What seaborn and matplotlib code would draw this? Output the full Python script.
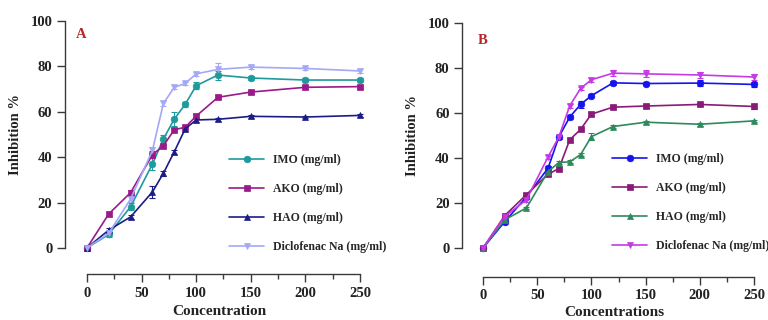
import numpy as np
import pandas as pd
import matplotlib
matplotlib.use("Agg")
import matplotlib.pyplot as plt
import seaborn as sns
from matplotlib.ticker import MultipleLocator

sns.set_theme(style="white")
plt.rcParams['font.family'] = ['Liberation Serif', 'DejaVu Serif']
plt.rcParams['font.weight'] = 'bold'

conc = [0, 20, 40, 60, 70, 80, 90, 100, 120, 150, 200, 250]
series = ["IMO (mg/ml)", "AKO (mg/ml)", "HAO (mg/ml)", "Diclofenac Na (mg/ml)"]

# Panel A
a_imo = [0, 6.0, 18.2, 37.0, 48.0, 56.8, 63.3, 71.5, 76.2, 74.9, 74.0, 74.0]
a_ako = [0, 15.0, 24.4, 41.1, 45.0, 52.1, 53.2, 58.1, 66.4, 68.7, 70.8, 71.1]
a_hao = [0, 7.9, 13.7, 24.7, 32.9, 42.4, 52.5, 56.4, 56.7, 58.0, 57.7, 58.4]
a_dic = [0, 6.5, 21.6, 43.0, 63.7, 70.8, 72.5, 76.7, 78.7, 79.7, 79.1, 78.0]
a_imo_err = [0, 1.0, 1.5, 2.5, 2.0, 3.0, 1.0, 1.5, 2.0, 0.8, 0.8, 0.8]
a_ako_err = [0, 0.8, 1.0, 1.5, 1.0, 0.8, 0.8, 1.0, 0.8, 0.8, 0.8, 0.8]
a_hao_err = [0, 0.8, 0.8, 2.5, 1.0, 0.8, 0.8, 0.8, 0.6, 0.6, 0.6, 0.6]
a_dic_err = [0, 0.8, 1.5, 1.5, 1.0, 0.8, 0.8, 1.0, 3.0, 0.8, 0.8, 0.8]

# Panel B
b_imo = [0, 11.7, 22.7, 35.5, 49.4, 58.2, 63.8, 67.7, 73.4, 73.1, 73.3, 72.7]
b_ako = [0, 14.4, 23.7, 32.8, 35.3, 48.1, 52.7, 59.5, 62.6, 63.1, 63.8, 62.9]
b_hao = [0, 12.5, 17.8, 34.0, 38.0, 38.3, 41.5, 49.5, 54.0, 55.9, 55.0, 56.5]
b_dic = [0, 14.0, 21.4, 40.5, 49.4, 63.2, 70.9, 74.8, 77.7, 77.4, 76.9, 76.0]
b_imo_err = [0, 0.8, 1.0, 1.0, 1.0, 1.0, 1.5, 0.8, 0.8, 0.8, 1.2, 1.2]
b_ako_err = [0, 0.8, 0.8, 0.8, 1.0, 0.8, 0.8, 0.8, 0.8, 0.8, 0.8, 1.2]
b_hao_err = [0, 0.6, 0.6, 0.6, 0.6, 0.6, 0.6, 1.5, 0.6, 0.6, 0.6, 0.6]
b_dic_err = [0, 0.8, 0.8, 0.8, 0.8, 0.8, 0.8, 0.8, 1.2, 1.5, 1.2, 1.2]

markers = {series[0]: "o", series[1]: "s", series[2]: "^", series[3]: "v"}
pal_a = {series[0]: "#1f9a9c", series[1]: "#9a1a8a", series[2]: "#1c1c86", series[3]: "#a4a8f6"}
pal_b = {series[0]: "#1414ee", series[1]: "#8a1a78", series[2]: "#2e8a5c", series[3]: "#c63ae6"}

def make_df(vals, errs):
    rows = []
    for name, v, e in zip(series, vals, errs):
        for c, y, ee in zip(conc, v, e):
            rows.append({"Concentration": c, "Inhibition": y, "err": ee, "Series": name})
    return pd.DataFrame(rows)

df_a = make_df([a_imo, a_ako, a_hao, a_dic], [a_imo_err, a_ako_err, a_hao_err, a_dic_err])
df_b = make_df([b_imo, b_ako, b_hao, b_dic], [b_imo_err, b_ako_err, b_hao_err, b_dic_err])

W, H = 768, 320
fig = plt.figure(figsize=(7.68, 3.2), dpi=100)

def px_axes(l, t, r, b):
    return fig.add_axes([l / W, 1 - b / H, (r - l) / W, (b - t) / H])

ax_a = px_axes(65, 16.5, 373, 252.5)
ax_b = px_axes(462, 18.5, 767, 252.5)

def draw(ax, df, pal, xlo, label, xlabel, leg_anchor, letter_xy, outward, xlpad):
    ax.patch.set_alpha(0)
    sns.lineplot(data=df, x="Concentration", y="Inhibition", hue="Series", style="Series",
                 palette=pal, markers=markers, dashes=False, ax=ax, linewidth=1.2,
                 markersize=4.8, markeredgewidth=0.5, hue_order=series, style_order=series,
                 errorbar=None, clip_on=False, zorder=3)
    for ln in ax.lines:
        ln.set_markeredgecolor(ln.get_color())
    for name in series:
        sub = df[df.Series == name]
        ax.errorbar(sub.Concentration, sub.Inhibition, yerr=sub.err, fmt="none",
                    ecolor=pal[name], elinewidth=0.8, capsize=2.5, capthick=0.8,
                    clip_on=False, zorder=2)
    ax.set_xlim(xlo, 262)
    ax.set_ylim(-2, 102)
    for s in ["top", "right"]:
        ax.spines[s].set_visible(False)
    for s in ["left", "bottom"]:
        ax.spines[s].set_color("#3a3a3a")
        ax.spines[s].set_linewidth(1.0)
    ax.spines["left"].set_bounds(0, 100)
    ax.spines["bottom"].set_bounds(0, 250)
    ax.spines["bottom"].set_position(("outward", outward))
    ax.set_yticks([0, 20, 40, 60, 80, 100])
    ax.set_xticks([0, 50, 100, 150, 200, 250])
    ax.xaxis.set_minor_locator(MultipleLocator(25))
    ax.tick_params(axis="both", which="major", direction="out", length=6, width=1.0,
                   color="#3a3a3a", labelsize=10.5, pad=3, left=True, bottom=True)
    ax.tick_params(axis="x", which="minor", direction="out", length=3.5, width=1.0,
                   color="#3a3a3a", bottom=True)
    for t in ax.get_xticklabels() + ax.get_yticklabels():
        t.set_fontweight("bold")
        t.set_color("#222222")
    ax.set_ylabel("Inhibition %", fontsize=10.5, fontweight="bold", color="#222222", labelpad=6)
    ax.set_xlabel(xlabel, fontsize=11, fontweight="bold", color="#222222", labelpad=xlpad)
    handles, labels = ax.get_legend_handles_labels()
    for h in handles:
        h.set_markeredgecolor(h.get_color())
    ax.legend(handles, labels, loc="upper left", bbox_to_anchor=(leg_anchor[0] / W, 1 - leg_anchor[1] / H),
              bbox_transform=fig.transFigure, frameon=False, handlelength=3.0,
              handletextpad=0.7, labelspacing=1.45, borderpad=0, borderaxespad=0,
              prop={"weight": "bold", "size": 8.5})
    fig.text(letter_xy[0] / W, 1 - letter_xy[1] / H, label, color="#b5252a", fontsize=10.5,
             fontweight="bold", ha="left", va="center")

draw(ax_a, df_a, pal_a, -20.1, "A", "Concentration", (229, 154), (76, 35), 15.5, 4)
draw(ax_b, df_b, pal_b, -19.4, "B", "Concentrations", (612, 153), (478, 40), 17.5, 2.5)

fig.savefig("out.png", dpi=100)
